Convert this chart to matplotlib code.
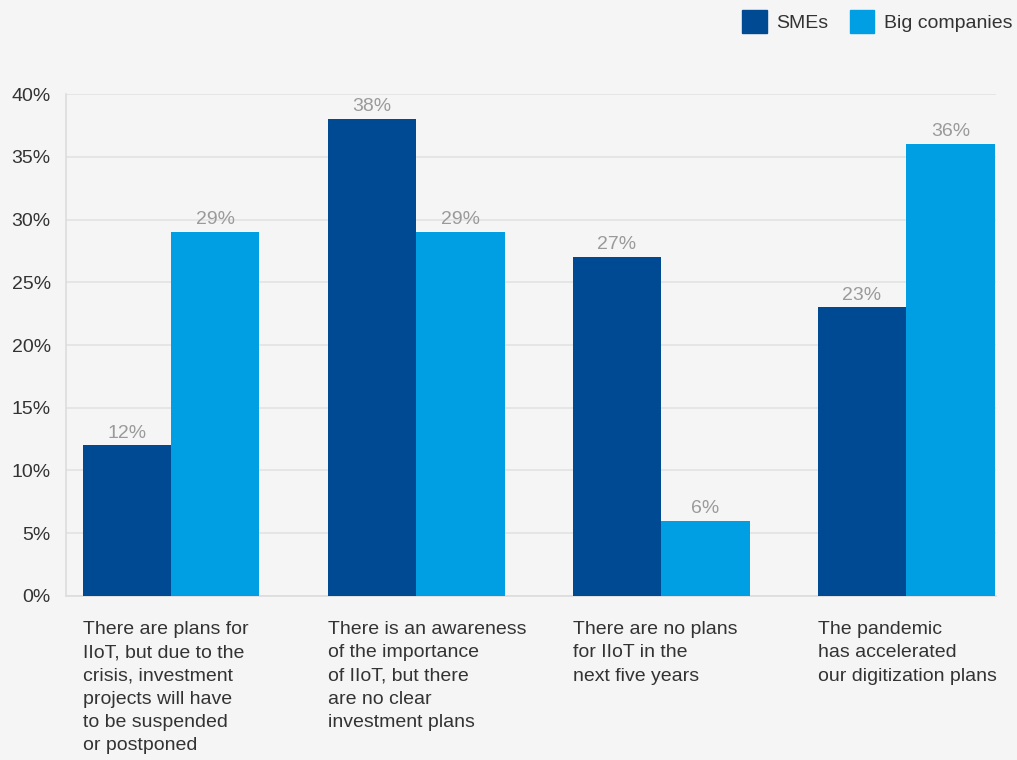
import numpy as np
import matplotlib
matplotlib.use("Agg")
import matplotlib.pyplot as plt
from matplotlib.patches import Patch
from matplotlib.transforms import blended_transform_factory

plt.rcParams['font.family'] = ['Liberation Sans', 'DejaVu Sans']

categories = [
    "There are plans for\nIIoT, but due to the\ncrisis, investment\nprojects will have\nto be suspended\nor postponed",
    "There is an awareness\nof the importance\nof IIoT, but there\nare no clear\ninvestment plans",
    "There are no plans\nfor IIoT in the\nnext five years",
    "The pandemic\nhas accelerated\nour digitization plans",
]
smes = [12, 38, 27, 23]
big_companies = [29, 29, 6, 36]
series_names = ["SMEs", "Big companies"]
yticks = [0, 5, 10, 15, 20, 25, 30, 35, 40]

bg = "#f5f5f5"
c_sme = "#004a93"
c_big = "#009fe3"
txt = "#333333"
lbl = "#9a9a9a"
grid = "#e2e2e2"

fig = plt.figure(figsize=(10.17, 7.6), dpi=100, facecolor=bg)
ax = fig.add_axes([0.0649, 0.2158, 0.9145, 0.6605], facecolor=bg)

x = np.arange(len(categories))
w = 0.361
b1 = ax.bar(x - w / 2, smes, w, color=c_sme, zorder=3)
b2 = ax.bar(x + w / 2, big_companies, w, color=c_big, zorder=3)

for bars, vals in ((b1, smes), (b2, big_companies)):
    for r, v in zip(bars, vals):
        ax.text(r.get_x() + r.get_width() / 2, v + 0.3, f"{v}%", ha="center",
                va="bottom", color=lbl, fontsize=14)

ax.set_xlim(-0.4286, 3.367)
ax.set_ylim(0, 40)
ax.set_yticks(yticks)
ax.set_yticklabels([f"{t}%" for t in yticks])
ax.tick_params(axis="y", length=0, pad=11, labelsize=14, labelcolor=txt)
ax.set_xticks([])
ax.grid(axis="y", color=grid, linewidth=1.2, zorder=0)
for s in ("top", "right"):
    ax.spines[s].set_visible(False)
for s in ("left", "bottom"):
    ax.spines[s].set_color("#dcdcdc")
    ax.spines[s].set_linewidth(1.2)

# category captions sit under each group, left-aligned with the first bar
trans = blended_transform_factory(ax.transData, ax.transAxes)
for i, c in enumerate(categories):
    ax.text(i - w, -0.05, c, transform=trans, ha="left", va="top",
            fontsize=14, color=txt, linespacing=1.48)

handles = [Patch(color=c_sme), Patch(color=c_big)]
fig.legend(handles, series_names, loc="upper right", bbox_to_anchor=(1.005, 1.0),
           ncol=2, frameon=False, fontsize=14, handlelength=1.25, handleheight=1.5,
           handletextpad=0.5, columnspacing=1.1, labelcolor=txt,
           borderaxespad=0.1)

fig.savefig("out.png", dpi=100, facecolor=bg)
